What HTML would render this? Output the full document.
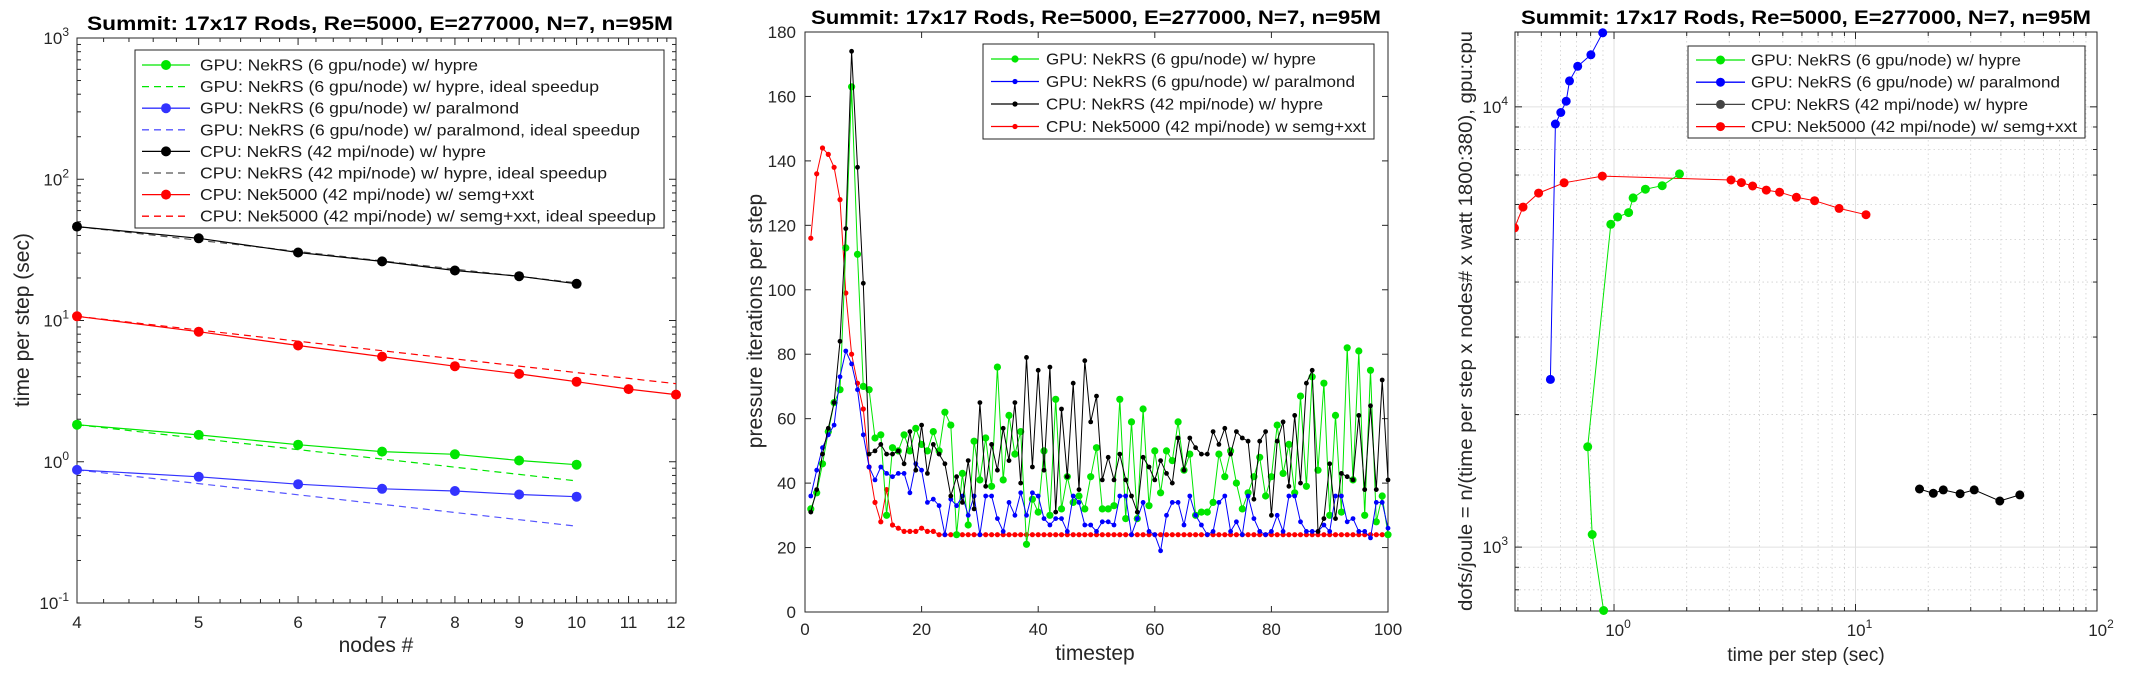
<!DOCTYPE html>
<html><head><meta charset="utf-8"><style>
html,body{margin:0;padding:0;background:#fff;}
svg{display:block;font-family:"Liberation Sans",Arial,sans-serif;}
</style></head><body>
<svg id="fig" width="2132" height="676" viewBox="0 0 2132 676" xmlns="http://www.w3.org/2000/svg"></svg>
<script>
// ---------- Panel 1 data (time per step vs nodes) ----------
const p1Nodes = [4,5,6,7,8,9,10];
const p1NodesRed = [4,5,6,7,8,9,10,11,12];
const p1GpuHypre = [1.83,1.55,1.32,1.18,1.13,1.02,0.953];
const p1GpuParalmond = [0.875,0.782,0.694,0.643,0.621,0.586,0.566];
const p1CpuHypre = [46.2,38.2,30.3,26.2,22.6,20.6,18.2];
const p1Nek5000 = [10.7,8.33,6.65,5.55,4.75,4.19,3.69,3.27,2.99];
const p1XTicks = [4,5,6,7,8,9,10,11,12];
const p1YTickExp = [-1,0,1,2,3];
// ---------- Panel 2 data (pressure iterations per timestep) ----------
const p2GpuHypre = [32,37,46,56,65,69,113,163,111,70,69,54,55,30,51,50,55,50,57,52,50,56,50,62,58,24,43,27,53,41,54,39,76,41,61,49,56,21,35,31,50,30,66,32,42,34,36,32,42,51,32,32,33,66,29,59,29,63,33,50,37,50,47,59,44,49,30,31,31,34,49,42,50,40,32,37,42,48,36,42,58,43,52,37,67,39,73,44,71,30,61,31,82,41,81,30,75,28,36,24];
const p2GpuParalmond = [36,44,51,55,58,73,81,77,69,55,45,41,45,43,42,43,43,37,46,44,34,35,33,24,35,33,36,30,36,24,36,36,29,25,34,30,37,30,37,36,29,27,29,29,25,36,34,27,27,25,28,28,27,36,36,24,29,34,25,24,19,30,34,34,27,36,30,27,24,25,34,36,25,28,24,36,29,25,24,25,30,25,36,36,28,25,25,25,27,25,36,36,28,29,25,25,23,34,34,26];
const p2CpuHypre = [31,38,49,57,65,84,119,174,138,102,49,50,52,49,49,50,46,56,44,58,43,52,49,46,36,42,34,47,32,65,39,52,44,57,47,65,40,79,45,75,44,76,31,63,42,71,38,78,59,67,41,48,41,49,41,36,31,48,45,41,47,43,40,54,44,54,51,49,49,56,52,57,49,56,54,53,35,53,56,30,53,59,39,61,40,71,75,25,29,46,29,43,42,41,61,38,64,38,72,41];
const p2Nek5000 = [116,136,144,142,138,128,99,80,71,63,45,34,28,38,27,26,25,25,25,26,25,25,24,24,24,24,24,24,24,24,24,24,24,24,24,24,24,24,24,24,24,24,24,24,24,24,24,24,24,24,24,24,24,24,24,24,24,24,24,24,24,24,24,24,24,24,24,24,24,24,24,24,24,24,24,24,24,24,24,24,24,24,24,24,24,24,24,24,24,24,24,24,24,24,24,24,24,24,24,24];
const p2XTicks = [0,20,40,60,80,100];
const p2YTicks = [0,20,40,60,80,100,120,140,160,180];
// ---------- Panel 3 data (dofs/joule vs time per step) ----------
const p3GreenX = [0.905,0.812,0.778,0.970,1.035,1.149,1.20,1.349,1.583,1.867];
const p3GreenY = [718,1068,1690,5410,5620,5750,6210,6500,6620,7040];
const p3BlueX = [0.545,0.572,0.602,0.634,0.654,0.707,0.802,0.898];
const p3BlueY = [2404,9140,9710,10300,11450,12360,13130,14730];
const p3BlackX = [18.4,21.0,23.1,27.1,31.0,39.6,47.9];
const p3BlackY = [1355,1325,1349,1322,1349,1273,1314];
const p3RedX = [0.387,0.42,0.487,0.621,0.894,3.05,3.37,3.75,4.27,4.85,5.69,6.77,8.55,11.05];
const p3RedY = [5310,5920,6370,6720,6960,6820,6730,6610,6470,6400,6230,6120,5880,5690];
const p3XTickExp = [0,1,2];
const p3YTickExp = [3,4];

const NS="http://www.w3.org/2000/svg";
const svg=document.getElementById('fig');
const GREEN='#00e600', BLUE='#0000ff', BLACK='#000000', RED='#ff0000', AX='#262626';
function mk(tag,attrs,parent){const e=document.createElementNS(NS,tag);for(const k in attrs)e.setAttribute(k,attrs[k]);(parent||svg).appendChild(e);return e;}
function logS(d0,d1,r0,r1){const a=Math.log10(d0),b=Math.log10(d1);return v=>r0+(Math.log10(v)-a)/(b-a)*(r1-r0);}
function linS(d0,d1,r0,r1){return v=>r0+(v-d0)/(d1-d0)*(r1-r0);}
function txt(x,y,s,size,opts,parent){const t=mk('text',Object.assign({x:x,y:y,'font-size':size,fill:AX},opts||{}),parent);t.textContent=s;return t;}
function pow10(x,y,e,anchor,parent){const t=mk('text',{x:x,y:y,'font-size':17,fill:AX,'text-anchor':anchor},parent);const a=document.createElementNS(NS,'tspan');a.textContent='10';t.appendChild(a);const b=document.createElementNS(NS,'tspan');b.setAttribute('dy','-8');b.setAttribute('font-size','12');b.textContent=String(e);t.appendChild(b);return t;}
function series(g,xs,ys,sx,sy,color,r,dash,name,width){
  const pts=xs.map((x,i)=>sx(x).toFixed(1)+','+sy(ys[i]).toFixed(1)).join(' ');
  const pl=mk('polyline',{points:pts,fill:'none',stroke:color,'stroke-width':width||1.2,'stroke-dasharray':dash||'none'},g);
  
  
  if(r>0){xs.forEach((x,i)=>{const c=mk('circle',{cx:sx(x).toFixed(1),cy:sy(ys[i]).toFixed(1),r:r,fill:color},g);
    
    });}
}
function legend(g,x0,y0,x1,y1,rows){
  const b=mk('rect',{x:x0,y:y0,width:x1-x0,height:y1-y0,fill:'#fff',stroke:AX,'stroke-width':1},g);
  
  
  rows.forEach(r=>{
    const eg=mk('g',{},g);
    
    
    mk('line',{x1:r.lx0,x2:r.lx1,y1:r.y,y2:r.y,stroke:r.c,'stroke-width':1.3,'stroke-dasharray':r.dash||'none'},eg);
    if(r.r)mk('circle',{cx:(r.lx0+r.lx1)/2,cy:r.y,r:r.r,fill:r.c},eg);
    const t=txt(r.tx,r.y+5.5,r.s,16,{fill:'#1a1a1a',textLength:r.w,lengthAdjust:'spacingAndGlyphs'},eg);
  });
}
function box(g,x0,y0,x1,y1){const b=mk('rect',{x:x0,y:y0,width:x1-x0,height:y1-y0,fill:'none',stroke:AX,'stroke-width':1},g);}
const TITLE='Summit: 17x17 Rods, Re=5000, E=277000, N=7, n=95M';

// ================= PANEL 1 =================
(function(){
  const L=77,R=676,T=38,B=603;
  const g=mk('g',{});
  const sx=logS(4,12,L,R), sy=logS(0.1,1000,B,T);
  // y ticks
  p1YTickExp.forEach(e=>{const v=Math.pow(10,e);const y=sy(v);
    mk('line',{x1:L,x2:L+7,y1:y,y2:y,stroke:AX},g);mk('line',{x1:R,x2:R-7,y1:y,y2:y,stroke:AX},g);
    const t=pow10(L-8,y+6,e,'end',g);
    if(e<3)for(let m=2;m<10;m++){const yy=sy(v*m);mk('line',{x1:L,x2:L+4,y1:yy,y2:yy,stroke:AX},g);mk('line',{x1:R,x2:R-4,y1:yy,y2:yy,stroke:AX},g);}
  });
  for(let v=4.2;v<12;v+=0.2){if(Math.abs(v-Math.round(v))<0.01)continue;const x=sx(v);mk('line',{x1:x,x2:x,y1:B,y2:B-4,stroke:AX},g);mk('line',{x1:x,x2:x,y1:T,y2:T+4,stroke:AX},g);}
  p1XTicks.forEach(v=>{const x=sx(v);mk('line',{x1:x,x2:x,y1:B,y2:B-7,stroke:AX},g);mk('line',{x1:x,x2:x,y1:T,y2:T+7,stroke:AX},g);
    const t=txt(x,628,String(v),17,{'text-anchor':'middle'},g);});
  box(g,L,T,R,B);
  // ideal lines
  const ideal=(arr,ns)=>ns.map(n=>arr[0]*ns[0]/n);
  series(g,p1Nodes,ideal(p1CpuHypre,p1Nodes),sx,sy,'#555',0,'7,5','cpu-hypre-ideal');
  series(g,p1NodesRed,ideal(p1Nek5000,p1NodesRed),sx,sy,RED,0,'7,5','nek5000-ideal');
  series(g,p1Nodes,ideal(p1GpuHypre,p1Nodes),sx,sy,GREEN,0,'7,5','gpu-hypre-ideal');
  series(g,p1Nodes,ideal(p1GpuParalmond,p1Nodes),sx,sy,'#5555ff',0,'7,5','gpu-paralmond-ideal');
  series(g,p1Nodes,p1CpuHypre,sx,sy,BLACK,5,null,'cpu-hypre');
  series(g,p1NodesRed,p1Nek5000,sx,sy,RED,5,null,'nek5000');
  series(g,p1Nodes,p1GpuHypre,sx,sy,GREEN,5,null,'gpu-hypre');
  series(g,p1Nodes,p1GpuParalmond,sx,sy,'#3333ff',5,null,'gpu-paralmond');
  const rows=[['GPU: NekRS (6 gpu/node) w/ hypre',GREEN,null,5,278],['GPU: NekRS (6 gpu/node) w/ hypre, ideal speedup',GREEN,'7,5',0,399],
    ['GPU: NekRS (6 gpu/node) w/ paralmond','#3333ff',null,5,319],['GPU: NekRS (6 gpu/node) w/ paralmond, ideal speedup','#5555ff','7,5',0,440],
    ['CPU: NekRS (42 mpi/node) w/ hypre',BLACK,null,5,286],['CPU: NekRS (42 mpi/node) w/ hypre, ideal speedup','#555','7,5',0,407],
    ['CPU: Nek5000 (42 mpi/node) w/ semg+xxt',RED,null,5,334],['CPU: Nek5000 (42 mpi/node) w/ semg+xxt, ideal speedup',RED,'7,5',0,456]];
  legend(g,135,50,664,228,rows.map((r,i)=>({s:r[0],c:r[1],dash:r[2],r:r[3],w:r[4],y:65+i*21.6,lx0:142,lx1:190,tx:200})));
  const tt=txt(380,30,TITLE,19,{'text-anchor':'middle','font-weight':'bold',fill:'#000',textLength:586,lengthAdjust:'spacingAndGlyphs'},g);
  const xl=txt(376,652,'nodes #',21,{'text-anchor':'middle'},g);
  const yl=txt(0,0,'time per step (sec)',21,{'text-anchor':'middle',transform:'translate(29,320) rotate(-90)'},g);
})();

// ================= PANEL 2 =================
(function(){
  const L=805,R=1388,T=32,B=612;
  const g=mk('g',{});
  const sx=linS(0,100,L,R), sy=linS(0,180,B,T);
  p2YTicks.forEach(v=>{const y=sy(v);mk('line',{x1:L,x2:L+6,y1:y,y2:y,stroke:AX},g);mk('line',{x1:R,x2:R-6,y1:y,y2:y,stroke:AX},g);
    const t=txt(L-9,y+6,String(v),17,{'text-anchor':'end'},g);});
  p2XTicks.forEach(v=>{const x=sx(v);mk('line',{x1:x,x2:x,y1:B,y2:B-6,stroke:AX},g);mk('line',{x1:x,x2:x,y1:T,y2:T+6,stroke:AX},g);
    const t=txt(x,635,String(v),17,{'text-anchor':'middle'},g);});
  box(g,L,T,R,B);
  const ts=p2Nek5000.map((_,i)=>i+1);
  series(g,ts,p2Nek5000,sx,sy,RED,2.6,null,'nek5000',1);
  series(g,ts,p2GpuHypre,sx,sy,GREEN,3.6,null,'gpu-hypre',1);
  series(g,ts,p2GpuParalmond,sx,sy,BLUE,2.4,null,'gpu-paralmond',1);
  series(g,ts,p2CpuHypre,sx,sy,BLACK,2.4,null,'cpu-hypre',1);
  const rows=[['GPU: NekRS (6 gpu/node) w/ hypre',GREEN,3.6,270],['GPU: NekRS (6 gpu/node) w/ paralmond',BLUE,2.6,309],
    ['CPU: NekRS (42 mpi/node) w/ hypre',BLACK,2.6,277],['CPU: Nek5000 (42 mpi/node) w semg+xxt',RED,2.6,320]];
  legend(g,983,44,1374,139,rows.map((r,i)=>({s:r[0],c:r[1],r:r[2],w:r[3],y:59+i*22.5,lx0:991,lx1:1039,tx:1046})));
  const tt=txt(1096,24,TITLE,19,{'text-anchor':'middle','font-weight':'bold',fill:'#000',textLength:570,lengthAdjust:'spacingAndGlyphs'},g);
  const xl=txt(1095,660,'timestep',21,{'text-anchor':'middle'},g);
  const yl=txt(0,0,'pressure iterations per step',21,{'text-anchor':'middle',transform:'translate(762,321) rotate(-90)'},g);
})();

// ================= PANEL 3 =================
(function(){
  const L=1515,R=2097,T=32,B=611;
  const g=mk('g',{});
  const sx=logS(0.389,100,L,R), sy=logS(716,14790,B,T);
  const cp=mk('clipPath',{id:'c3'},g);mk('rect',{x:L,y:T-6,width:R-L,height:B-T+12},cp);
  // grid
  [0.4,0.5,0.6,0.7,0.8,0.9,2,3,4,5,6,7,8,9,20,30,40,50,60,70,80,90].forEach(v=>{const x=sx(v);
    mk('line',{x1:x,x2:x,y1:T,y2:B,stroke:'#cfcfcf','stroke-width':0.8,'stroke-dasharray':'1.5,3'},g);
    mk('line',{x1:x,x2:x,y1:B,y2:B-4,stroke:AX},g);mk('line',{x1:x,x2:x,y1:T,y2:T+4,stroke:AX},g);});
  [800,900,2000,3000,4000,5000,6000,7000,8000,9000].forEach(v=>{const y=sy(v);
    mk('line',{x1:L,x2:R,y1:y,y2:y,stroke:'#cfcfcf','stroke-width':0.8,'stroke-dasharray':'1.5,3'},g);
    mk('line',{x1:L,x2:L+4,y1:y,y2:y,stroke:AX},g);mk('line',{x1:R,x2:R-4,y1:y,y2:y,stroke:AX},g);});
  p3XTickExp.forEach(e=>{const x=sx(Math.pow(10,e));mk('line',{x1:x,x2:x,y1:T,y2:B,stroke:'#e0e0e0','stroke-width':1},g);
    mk('line',{x1:x,x2:x,y1:B,y2:B-7,stroke:AX},g);mk('line',{x1:x,x2:x,y1:T,y2:T+7,stroke:AX},g);
    const t=pow10(x+4,636,e,'middle',g);});
  p3YTickExp.forEach(e=>{const y=sy(Math.pow(10,e));mk('line',{x1:L,x2:R,y1:y,y2:y,stroke:'#e0e0e0','stroke-width':1},g);
    mk('line',{x1:L,x2:L+7,y1:y,y2:y,stroke:AX},g);mk('line',{x1:R,x2:R-7,y1:y,y2:y,stroke:AX},g);
    const t=pow10(L-7,y+6,e,'end',g);});
  box(g,L,T,R,B);
  const dg=mk('g',{'clip-path':'url(#c3)'},g);
  series(dg,p3RedX,p3RedY,sx,sy,RED,4.5,null,'nek5000',1);
  series(dg,p3GreenX,p3GreenY,sx,sy,GREEN,4.5,null,'gpu-hypre',1);
  series(dg,p3BlueX,p3BlueY,sx,sy,BLUE,4.5,null,'gpu-paralmond',1);
  series(dg,p3BlackX,p3BlackY,sx,sy,BLACK,4.5,null,'cpu-hypre',1);
  const rows=[['GPU: NekRS (6 gpu/node) w/ hypre',GREEN,270],['GPU: NekRS (6 gpu/node) w/ paralmond',BLUE,309],
    ['CPU: NekRS (42 mpi/node) w/ hypre','#444',277],['CPU: Nek5000 (42 mpi/node) w/ semg+xxt',RED,326]];
  legend(g,1688,46,2085,138,rows.map((r,i)=>({s:r[0],c:r[1],r:4.5,w:r[2],y:60+i*22.2,lx0:1696,lx1:1745,tx:1751})));
  const tt=txt(1806,24,TITLE,19,{'text-anchor':'middle','font-weight':'bold',fill:'#000',textLength:570,lengthAdjust:'spacingAndGlyphs'},g);
  const xl=txt(1806,661,'time per step (sec)',19,{'text-anchor':'middle'},g);
  const yl=txt(0,0,'dofs/joule = n/(time per step x nodes# x watt 1800:380), gpu:cpu',19,{'text-anchor':'middle',transform:'translate(1472,321) rotate(-90)',textLength:580,lengthAdjust:'spacingAndGlyphs'},g);
})();
</script>
</body></html>
